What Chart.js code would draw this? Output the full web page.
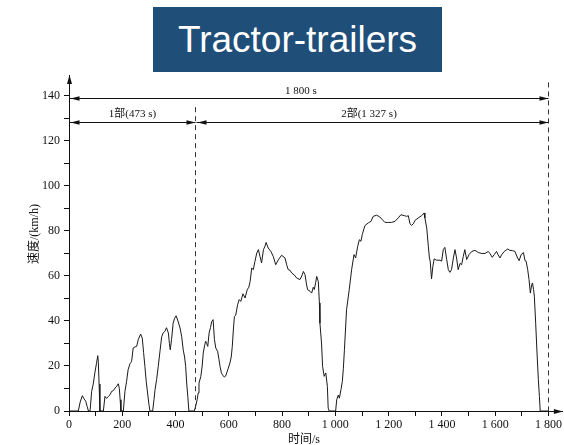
<!DOCTYPE html>
<html><head><meta charset="utf-8">
<script src="https://cdn.jsdelivr.net/npm/chart.js@4/dist/chart.umd.min.js"></script>
<style>
html,body{margin:0;padding:0;background:#fff;}
#wrap{position:relative;width:564px;height:445px;overflow:hidden;background:#fff;}
#title{position:absolute;left:153px;top:7px;width:289px;height:65px;background:#1F4E79;color:#fff;font:37px 'Liberation Sans',Arial,sans-serif;display:flex;align-items:center;justify-content:center;line-height:1;}
canvas{position:absolute;left:0;top:0;}
</style></head><body>
<div id="wrap"><canvas id="c" width="564" height="445"></canvas><div id="title">Tractor-trailers</div></div>
<script>
// ---- data ----
const times = [0,35,42,50,56,63,68,73,79,85,91,97,103,108,110,113,116,129,135,141,148,154,160,166,173,179,185,189,192,195,204,210,216,222,229,235,241,248,254,260,269,275,280,285,290,295,300,304,314,319,323,329,335,342,348,354,360,366,373,377,380,385,391,396,402,409,417,423,429,434,438,442,446,450,470,474,477,481,485,488,495,500,504,509,513,517,521,526,531,536,541,546,551,558,563,567,572,576,583,588,592,598,604,609,613,617,621,626,633,639,645,653,661,669,675,680,686,692,698,705,711,717,723,730,735,740,748,758,767,776,786,798,811,817,823,830,836,845,855,867,874,880,886,892,896,905,911,917,921,926,930,936,940,942,948,952,958,964,970,973,977,1001,1005,1011,1015,1021,1026,1030,1034,1042,1052,1061,1070,1076,1084,1090,1096,1101,1111,1124,1134,1142,1155,1167,1174,1186,1199,1211,1224,1236,1246,1259,1268,1274,1280,1286,1293,1299,1311,1324,1333,1336,1343,1349,1353,1356,1361,1366,1371,1380,1393,1399,1405,1411,1418,1424,1430,1436,1443,1449,1455,1461,1468,1474,1480,1486,1493,1502,1512,1524,1537,1550,1562,1574,1580,1589,1597,1605,1611,1618,1624,1634,1647,1655,1664,1674,1684,1690,1697,1706,1712,1716,1722,1727,1732,1737,1740,1744,1747,1752,1757,1762,1766,1769,1800];
const speeds = [0,0,4,6.8,5.5,4.3,2,0,0,8.7,12,16.9,21,24.6,22,12,0,0,6.5,5.6,6.5,7.2,8.7,9,10.2,11,12.1,10,5,0,0,8.7,13,18.4,21,22,28,28.5,28.7,31.7,34.2,32.4,26,19.8,13,8,3,0,0,5,9.5,14,19.8,27,33,34.8,35.4,37,34.7,30,27.2,31.7,39,41,42.3,40,36.9,33,27,24,19.8,12,6.5,0,0,1.5,2.8,5,8,12.4,15.4,20,25.8,29,31,30,28.7,34.7,37,39.8,40.6,31.7,28,26.5,23,19.8,17,16.1,15.1,15.5,16.9,19,21.3,24,28.7,36,42,42.6,47.2,49.5,48.7,52.1,50.2,53.9,55,57.6,63.5,62.8,66.5,70.2,71.7,68.7,65.8,71.7,73,74.9,72.4,70.9,68.6,65,67.2,69.2,68,65,62.8,62.5,61.3,60.5,59.1,58.4,60,62,60.6,56,53.9,53.2,52.4,55,54,57,59.8,57.5,48,39,30.2,19.8,15.4,16.9,10.9,1.3,0,0,5,7.1,5.7,9.5,13,19,27.2,45,53.9,62.8,69.5,68,73.2,76.1,75.4,78.4,82.4,83.6,84.3,86.5,87,86.2,85.3,83.8,83.8,83.8,84.3,85.8,87.2,86.8,86.5,86.8,83.2,82.5,83.2,84.7,85.8,86.8,88,85.8,81.3,73.2,68,66.6,58.7,64.3,67.6,67,67,66.6,71.7,72.7,67.3,62.8,61.6,62.8,68,71.7,68,62.8,65.6,65,68.6,71.7,67.3,69.5,70.9,71.4,70.4,70,70,70.9,70,68.3,69.6,70.9,69.4,68,69.4,70.9,72,71.4,71.3,70.9,68,66.8,69.4,70.4,66.8,66.6,62.8,58.4,52.4,56.1,56.9,54,51,39,25.8,13.9,6.5,0,0];
const xTicks = [0,100,200,300,400,500,600,700,800,900,1000,1100,1200,1300,1400,1500,1600,1700,1800];
const xTickLabels = ['0','','200','','400','','600','','800','','1 000','','1 200','','1 400','','1 600','','1 800'];
const yTicks = [0,10,20,30,40,50,60,70,80,90,100,110,120,130,140];
const yTickLabels = ['0','','20','','40','','60','','80','','100','','120','','140'];
const xTitle = '时间/s';
const yTitle = '速度/(km/h)';
const totalLabel = '1 800 s';
const part1Label = '1部(473 s)';
const part2Label = '2部(1 327 s)';
const splitTime = 473;
const endTime = 1800;
const totalLineLevel = 139;
const partLineLevel = 128.5;

const INK = '#111';
const serif = "'Liberation Serif','Noto Sans CJK SC',serif";

function tri(ctx, tx, ty, dir, len, hw) {
  len = len || 8; hw = hw || 2.5;
  ctx.beginPath();
  ctx.moveTo(tx, ty);
  if (dir === 'left') { ctx.lineTo(tx + len, ty - hw); ctx.lineTo(tx + len, ty + hw); }
  else if (dir === 'right') { ctx.lineTo(tx - len, ty - hw); ctx.lineTo(tx - len, ty + hw); }
  else if (dir === 'up') { ctx.lineTo(tx - hw, ty + len); ctx.lineTo(tx + hw, ty + len); }
  ctx.closePath();
  ctx.fill();
}

const annot = {
  id: 'annot',
  afterDraw(chart) {
    const {ctx, chartArea, scales: {x, y}} = chart;
    const px = v => x.getPixelForValue(v), py = v => y.getPixelForValue(v);
    ctx.save();
    ctx.fillStyle = INK; ctx.strokeStyle = INK; ctx.lineWidth = 1;
    const x0 = Math.round(px(0)) + 0.5, y0 = Math.round(py(0)) + 0.5;
    // axis arrows
    tri(ctx, x0, chartArea.top, 'up', 9, 2.5);
    tri(ctx, chartArea.right, y0, 'right', 9, 2.5);
    // dashed verticals
    ctx.setLineDash([5, 4]);
    ctx.strokeStyle = '#333';
    const xs = Math.round(px(splitTime)) + 0.5, xe = Math.round(px(endTime)) + 0.5;
    ctx.beginPath(); ctx.moveTo(xs, py(135)); ctx.lineTo(xs, y0); ctx.stroke();
    ctx.beginPath(); ctx.moveTo(xe, py(146)); ctx.lineTo(xe, y0); ctx.stroke();
    ctx.setLineDash([]);
    ctx.strokeStyle = INK;
    // dimension lines
    const yt = Math.round(py(totalLineLevel)) + 0.5, yp = Math.round(py(partLineLevel)) + 0.5;
    const seg = (a, b, yy) => {
      ctx.beginPath(); ctx.moveTo(a, yy); ctx.lineTo(b, yy); ctx.stroke();
      tri(ctx, a + 1, yy, 'left', 9, 2.2);
      tri(ctx, b, yy, 'right', 9, 2.2);
    };
    seg(x0, xe, yt);
    seg(x0, xs, yp);
    seg(xs + 1, xe, yp);
    ctx.font = "11px " + serif;
    ctx.textAlign = 'center'; ctx.textBaseline = 'middle';
    ctx.fillText(totalLabel, (x0 + xe) / 2 - 8, yt - 7);
    ctx.fillText(part1Label, (x0 + xs) / 2, yp - 8);
    ctx.fillText(part2Label, (xs + xe) / 2 - 3, yp - 8);
    // axis titles
    ctx.font = "12px " + serif;
    ctx.fillText(xTitle, (x0 + xe) / 2 - 5, 440);
    ctx.save();
    ctx.translate(35, 234);
    ctx.rotate(-Math.PI / 2);
    ctx.fillText(yTitle, 0, 0);
    ctx.restore();
    ctx.restore();
  }
};

new Chart(document.getElementById('c'), {
  type: 'line',
  data: { datasets: [{
    data: times.map((t, i) => ({x: t, y: speeds[i]})),
    borderColor: '#1a1a1a', borderWidth: 1, pointRadius: 0, tension: 0, fill: false
  }]},
  options: {
    responsive: false, animation: false, devicePixelRatio: 1,
    layout: { padding: { top: 75, left: 0, right: 1, bottom: 0 } },
    plugins: { legend: { display: false }, tooltip: { enabled: false } },
    scales: {
      x: {
        type: 'linear', min: 0, max: 1854,
        afterBuildTicks: s => { s.ticks = xTicks.map(v => ({value: v})); },
        afterFit: s => { s.height = 34; },
        ticks: { autoSkip: false, maxRotation: 0, padding: 2, color: INK,
          font: { family: serif, size: 12 },
          callback: v => { const i = xTicks.indexOf(v); return i >= 0 ? xTickLabels[i] : ''; } },
        grid: { display: true, drawOnChartArea: false, drawTicks: true, tickLength: 5, color: INK },
        border: { display: true, color: INK, width: 1 }
      },
      y: {
        type: 'linear', min: 0, max: 149.3,
        afterBuildTicks: s => { s.ticks = yTicks.map(v => ({value: v})); },
        afterFit: s => { s.width = 69; },
        ticks: { autoSkip: false, padding: 4, color: INK,
          font: { family: serif, size: 12 },
          callback: v => { const i = yTicks.indexOf(v); return i >= 0 ? yTickLabels[i] : ''; } },
        grid: { display: true, drawOnChartArea: false, drawTicks: true, tickLength: 5, color: INK },
        border: { display: true, color: INK, width: 1 }
      }
    }
  },
  plugins: [annot]
});
</script>
</body></html>
